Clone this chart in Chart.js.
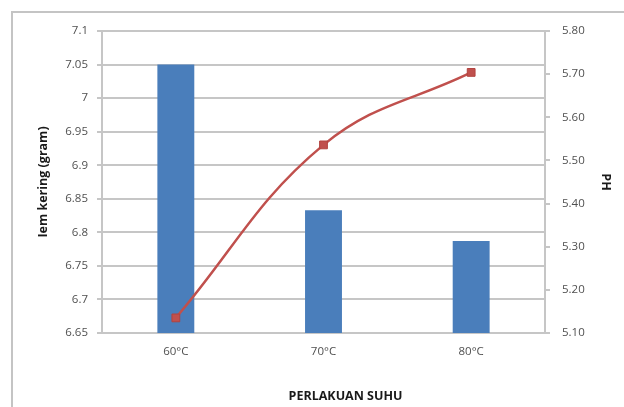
<!DOCTYPE html>
<html>
<head>
<meta charset="utf-8">
<script src="https://cdn.jsdelivr.net/npm/chart.js@4/dist/chart.umd.min.js"></script>
<style>
  html, body { margin: 0; padding: 0; background: #fff; }
  #wrap { width: 624px; height: 407px; position: relative; }
</style>
</head>
<body>
<div id="wrap"><canvas id="c" width="624" height="407"></canvas></div>
<script>
// ---- data ----
const categories = ['60°C', '70°C', '80°C'];
const beratKering = [7.05, 6.833, 6.787];   // left axis, bars
const phValues = [5.135, 5.536, 5.704];     // right axis, line
const leftTicks = [6.65, 6.7, 6.75, 6.8, 6.85, 6.9, 6.95, 7, 7.05, 7.1];
const leftTickLabels = ['6.65', '6.7', '6.75', '6.8', '6.85', '6.9', '6.95', '7', '7.05', '7.1'];
const rightTicks = [5.1, 5.2, 5.3, 5.4, 5.5, 5.6, 5.7, 5.8];
const rightTickLabels = ['5.10', '5.20', '5.30', '5.40', '5.50', '5.60', '5.70', '5.80'];

const borderPlugin = {
  id: 'outerBorder',
  beforeDraw(chart) {
    const ctx = chart.ctx;
    ctx.save();
    ctx.fillStyle = '#ffffff';
    ctx.fillRect(0, 0, chart.width, chart.height);
    ctx.strokeStyle = '#c4c4c4';
    ctx.lineWidth = 2;
    ctx.strokeRect(12, 12, chart.width + 20, chart.height + 20);
    ctx.restore();
    // x-axis title is centred on the whole chart box (as in the original), not on the plot area
    const xs = chart.scales.x;
    if (xs && !xs._titleShifted) {
      const orig = xs.drawTitle;
      xs.drawTitle = function () {
        this.ctx.save();
        this.ctx.translate(22, 0);
        orig.call(this);
        this.ctx.restore();
      };
      xs._titleShifted = true;
    }
  }
};

const tickFont = { family: '"Open Sans", Lato, sans-serif', size: 11.5 };
const titleFont = { family: '"Open Sans", Lato, sans-serif', size: 12.5, weight: 'bold' };
const gridColor = '#c6c6c6';
const tickColor = '#505050';

new Chart(document.getElementById('c'), {
  data: {
    labels: categories,
    datasets: [
      {
        type: 'line',
        label: 'PH',
        data: phValues,
        yAxisID: 'y1',
        order: 0,
        borderColor: '#c0504d',
        backgroundColor: '#c0504d',
        borderWidth: 2.5,
        tension: 0.4,
        pointStyle: 'rect',
        pointRadius: 5.5,
        pointBackgroundColor: '#c0504d',
        pointBorderColor: '#b2433f',
        pointBorderWidth: 1
      },
      {
        type: 'bar',
        label: 'Iem kering',
        data: beratKering,
        yAxisID: 'y',
        order: 1,
        backgroundColor: '#4a7ebb',
        borderWidth: 0,
        categoryPercentage: 0.5,
        barPercentage: 0.5
      }
    ]
  },
  options: {
    responsive: false,
    animation: false,
    events: [],
    layout: { padding: { left: 12, top: 31, right: 0, bottom: 0 } },
    plugins: { legend: { display: false }, tooltip: { enabled: false }, title: { display: false } },
    scales: {
      x: {
        grid: { display: false, drawTicks: false },
        border: { display: true, color: gridColor, width: 2 },
        ticks: { color: tickColor, font: tickFont, padding: 12, maxRotation: 0 },
        title: { display: true, text: 'PERLAKUAN SUHU', color: '#1a1a1a', font: titleFont, padding: { top: 0, bottom: 3 } },
        afterFit: s => { s.height = 74; }
      },
      y: {
        position: 'left',
        min: 6.65,
        max: 7.1,
        afterBuildTicks: s => { s.ticks = leftTicks.map(v => ({ value: v })); },
        ticks: {
          color: tickColor, font: tickFont, padding: 9,
          callback: (v, i) => leftTickLabels[i]
        },
        grid: { color: gridColor, lineWidth: 2, tickLength: 5, drawTicks: true },
        border: { display: true, color: gridColor, width: 2 },
        title: { display: true, text: 'Iem kering (gram)', color: '#1a1a1a', font: titleFont, padding: { top: 24, bottom: 0 } },
        afterFit: s => { s.width = 90; }
      },
      y1: {
        position: 'right',
        min: 5.1,
        max: 5.8,
        afterBuildTicks: s => { s.ticks = rightTicks.map(v => ({ value: v })); },
        ticks: {
          color: tickColor, font: tickFont, padding: 12,
          callback: (v, i) => rightTickLabels[i]
        },
        grid: { color: gridColor, lineWidth: 2, tickLength: 5, drawOnChartArea: false, drawTicks: true },
        border: { display: true, color: gridColor, width: 2 },
        title: { display: true, text: 'PH', color: '#1a1a1a', font: titleFont, padding: { top: 11, bottom: 0 } },
        afterFit: s => { s.width = 79; }
      }
    }
  },
  plugins: [borderPlugin]
});
</script>
</body>
</html>
